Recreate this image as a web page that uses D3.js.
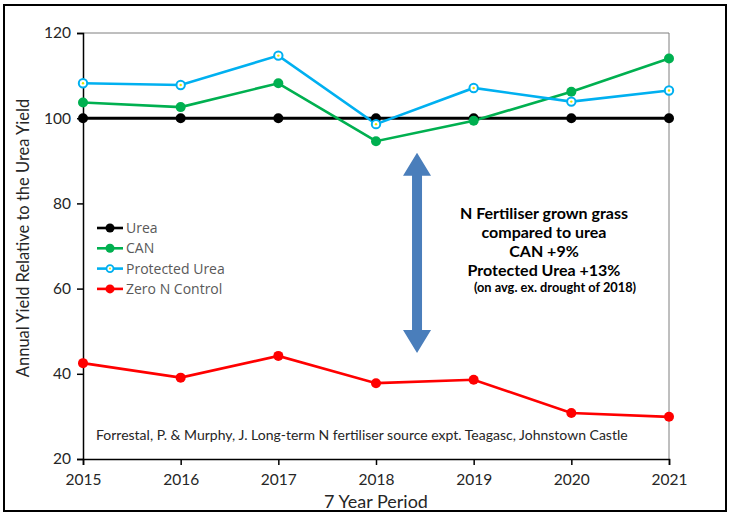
<!DOCTYPE html>
<html>
<head>
<meta charset="utf-8">
<script src="https://cdn.jsdelivr.net/npm/d3@7"></script>
<style>
  body { margin: 0; background: #fff; }
  svg { font-family: Lato, 'Open Sans', sans-serif; }
</style>
</head>
<body>
<div class="chart"></div>
<script>
var years = [2015, 2016, 2017, 2018, 2019, 2020, 2021];
var urea = [100, 100, 100, 100, 100, 100, 100];
var can = [103.7, 102.6, 108.2, 94.6, 99.4, 106.2, 114.0];
var protectedUrea = [108.2, 107.8, 114.7, 98.6, 107.1, 103.9, 106.5];
var zeroN = [42.5, 39.1, 44.2, 37.8, 38.6, 30.8, 29.9];
var yTicks = [20, 40, 60, 80, 100, 120];

var seriesNames = ['Urea', 'CAN', 'Protected Urea', 'Zero N Control'];
var seriesValues = [urea, can, protectedUrea, zeroN];
var seriesColors = ['#000000', '#00b050', '#00b0f0', '#ff0000'];

var noteLines = ['N Fertiliser grown grass', 'compared to urea', 'CAN +9%', 'Protected Urea +13%'];
var noteSmall = '(on avg. ex. drought of 2018)';

var width = 730, height = 519;
var svg = d3.select('.chart').append('svg')
    .attr('width', width)
    .attr('height', height);

// outer frame
svg.append('rect')
    .attr('x', 4).attr('y', 5)
    .attr('width', 722).attr('height', 506)
    .attr('fill', 'none')
    .attr('stroke', '#000')
    .attr('stroke-width', 2);

var x = d3.scaleLinear().domain([2015, 2021]).range([83, 669]);
var y = d3.scaleLinear().domain([20, 120]).range([459, 33]);

// plot border (top/right)
svg.append('path')
    .attr('d', 'M' + x(2015) + ',' + y(120) + 'H' + x(2021) + 'V' + y(20))
    .attr('fill', 'none')
    .attr('stroke', '#7f7f7f')
    .attr('stroke-width', 1);

var xAxis = svg.append('g')
    .attr('transform', 'translate(0,' + y(20) + ')')
    .call(d3.axisBottom(x).tickValues(years).tickFormat(d3.format('d')).tickSizeOuter(0).tickSize(6));

var yAxis = svg.append('g')
    .attr('transform', 'translate(' + x(2015) + ',0)')
    .call(d3.axisLeft(y).tickValues(yTicks).tickSizeOuter(0).tickSize(6));

[xAxis, yAxis].forEach(function(a) {
    a.select('.domain').attr('stroke', '#000').attr('stroke-width', 1.5);
    a.selectAll('.tick line').attr('stroke', '#000').attr('stroke-width', 1.5);
    a.selectAll('.tick text')
        .attr('fill', '#262626')
        .style('font-size', '15.5px')
        .style('font-family', 'Lato, sans-serif');
});
xAxis.selectAll('.tick text').attr('y', 26).attr('dy', 0);
yAxis.selectAll('.tick text').attr('x', -12);

// axis titles
svg.append('text')
    .attr('x', 376).attr('y', 508)
    .attr('text-anchor', 'middle')
    .attr('fill', '#262626')
    .style('font-size', '18px')
    .text('7 Year Period');

svg.append('text')
    .attr('transform', 'translate(29,238) rotate(-90)')
    .attr('text-anchor', 'middle')
    .attr('fill', '#262626')
    .style('font-size', '16.5px')
    .text('Annual Yield Relative to the Urea Yield');

// double-headed arrow
var ax = x(2018.42);
var arrowTop = y(91.9), arrowBot = y(44.9), head = 23;
svg.append('path')
    .attr('d', [
        'M', ax, arrowTop,
        'L', ax + 14, arrowTop + head,
        'L', ax + 5, arrowTop + head,
        'L', ax + 5, arrowBot - head,
        'L', ax + 14, arrowBot - head,
        'L', ax, arrowBot,
        'L', ax - 14, arrowBot - head,
        'L', ax - 5, arrowBot - head,
        'L', ax - 5, arrowTop + head,
        'L', ax - 14, arrowTop + head, 'Z'
    ].join(' '))
    .attr('fill', '#4a7ebb');

// series lines
var line = d3.line()
    .x(function(d, i) { return x(years[i]); })
    .y(function(d) { return y(d); });

seriesValues.forEach(function(vals, s) {
    svg.append('path')
        .datum(vals)
        .attr('d', line)
        .attr('fill', 'none')
        .attr('stroke', seriesColors[s])
        .attr('stroke-width', s === 0 ? 3 : 2.6);
});

seriesValues.forEach(function(vals, s) {
    var g = svg.append('g');
    g.selectAll('circle')
        .data(vals)
        .enter()
        .append('circle')
        .attr('cx', function(d, i) { return x(years[i]); })
        .attr('cy', function(d) { return y(d); })
        .attr('r', s === 2 ? 4.2 : 5)
        .attr('fill', s === 2 ? '#ffffff' : seriesColors[s])
        .attr('stroke', seriesColors[s])
        .attr('stroke-width', s === 2 ? 2 : 0);
    if (s === 2) {
        g.selectAll('.dot')
            .data(vals)
            .enter()
            .append('circle')
            .attr('cx', function(d, i) { return x(years[i]); })
            .attr('cy', function(d) { return y(d); })
            .attr('r', 1.2)
            .attr('fill', '#e6e600');
    }
});

// legend
var legend = svg.append('g').attr('transform', 'translate(97,228)');
seriesNames.forEach(function(name, s) {
    var row = legend.append('g').attr('transform', 'translate(0,' + (s * 20.3) + ')');
    row.append('line')
        .attr('x1', 0).attr('x2', 26)
        .attr('stroke', seriesColors[s])
        .attr('stroke-width', 2.6);
    row.append('circle')
        .attr('cx', 13).attr('r', s === 2 ? 3.5 : 4.5)
        .attr('fill', s === 2 ? '#ffffff' : seriesColors[s])
        .attr('stroke', seriesColors[s])
        .attr('stroke-width', s === 2 ? 1.8 : 0);
    if (s === 2) {
        row.append('circle').attr('cx', 13).attr('r', 1).attr('fill', '#e6e600');
    }
    row.append('text')
        .attr('x', 29).attr('y', 5)
        .attr('fill', '#595959')
        .style('font-family', "'Open Sans', sans-serif")
        .style('font-size', '14px')
        .text(name);
});

// annotation
var note = svg.append('g').attr('text-anchor', 'middle');
noteLines.forEach(function(t, i) {
    note.append('text')
        .attr('x', 544).attr('y', 219 + i * 19)
        .attr('fill', '#000')
        .style('font-size', '16px')
        .style('font-weight', 'bold')
        .text(t);
});
note.append('text')
    .attr('x', 555).attr('y', 292)
    .attr('fill', '#000')
    .style('font-size', '12.8px')
    .style('font-weight', 'bold')
    .text(noteSmall);

// source
svg.append('text')
    .attr('x', 96).attr('y', 440)
    .attr('fill', '#262626')
    .style('font-size', '14px')
    .text('Forrestal, P. & Murphy, J. Long-term N fertiliser source expt. Teagasc, Johnstown Castle');
</script>
</body>
</html>
